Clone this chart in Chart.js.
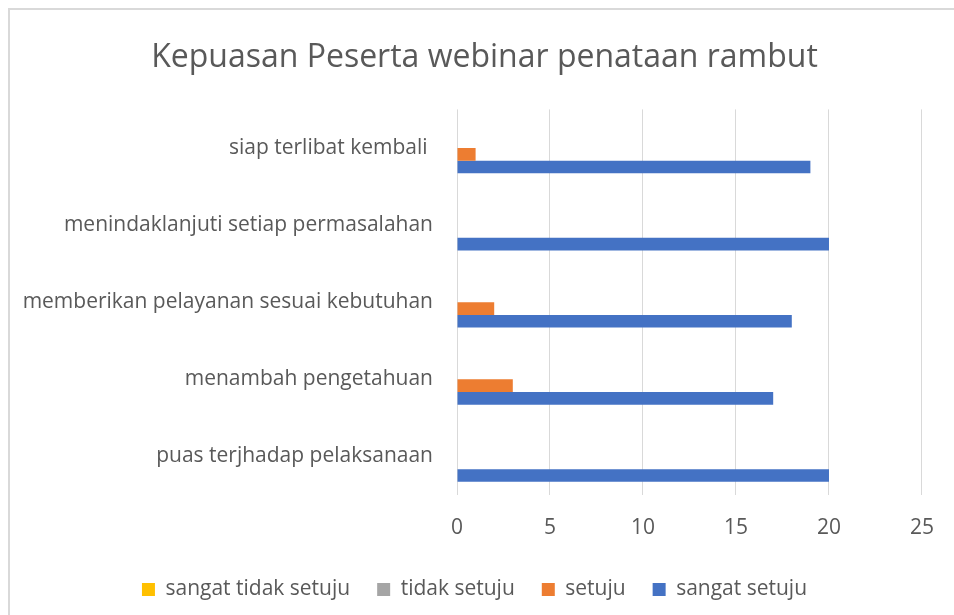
<!DOCTYPE html>
<html>
<head>
<meta charset="utf-8">
<script src="https://cdn.jsdelivr.net/npm/chart.js@4.4.0/dist/chart.umd.min.js"></script>
<style>
  html, body { margin: 0; padding: 0; background: #fff; }
  canvas { display: block; }
</style>
</head>
<body>
<canvas id="kepuasan" width="954" height="615"></canvas>
<script>
// top to bottom, as shown on the chart
const categories = [
    "siap terlibat kembali ",
    "menindaklanjuti setiap permasalahan",
    "memberikan pelayanan sesuai kebutuhan",
    "menambah pengetahuan",
    "puas terjhadap pelaksanaan"
]
const sangatTidakSetuju = [0, 0, 0, 0, 0]
const tidakSetuju = [0, 0, 0, 0, 0]
const setuju = [1, 0, 2, 3, 0]
const sangatSetuju = [19, 20, 18, 17, 20]
const xTicks = [0, 5, 10, 15, 20, 25]

const grey = "#595959"
const fontFam = "'Open Sans', sans-serif"

// light frame at top and left, like the spreadsheet chart border
// also nudges title and legend a bit right, they are centred on the whole frame
const framePlugin = {
    id: "frame",
    afterLayout(chart) {
        if (chart.titleBlock) {
            chart.titleBlock.left += 18
            chart.titleBlock.right += 18
        }
        if (chart.legend) {
            chart.legend.left += 8
            chart.legend.right += 8
        }
    },
    beforeDraw(chart) {
        const ctx = chart.ctx
        ctx.save()
        ctx.fillStyle = "#fff"
        ctx.fillRect(0, 0, chart.width, chart.height)
        ctx.strokeStyle = "#d9d9d9"
        ctx.lineWidth = 2
        ctx.beginPath()
        ctx.moveTo(9, chart.height)
        ctx.lineTo(9, 9)
        ctx.lineTo(chart.width, 9)
        ctx.stroke()
        ctx.restore()
    }
}

const data = {
    labels: categories,
    datasets: [{
        label: "sangat tidak setuju",
        data: sangatTidakSetuju,
        backgroundColor: "#FFC000"
    }, {
        label: "tidak setuju",
        data: tidakSetuju,
        backgroundColor: "#A5A5A5"
    }, {
        label: "setuju",
        data: setuju,
        backgroundColor: "#ED7D31"
    }, {
        label: "sangat setuju",
        data: sangatSetuju,
        backgroundColor: "#4472C4"
    }]
}

const config = {
    type: "bar",
    data,
    plugins: [framePlugin],
    options: {
        indexAxis: "y",
        responsive: false,
        animation: false,
        categoryPercentage: 0.658,
        barPercentage: 1,
        layout: {
            padding: { top: 10, left: 10, right: 31, bottom: 5 }
        },
        scales: {
            x: {
                min: 0,
                max: 25,
                afterBuildTicks(scale) {
                    scale.ticks = xTicks.map(v => ({ value: v }))
                },
                afterFit(scale) {
                    scale.height = 57
                },
                grid: { color: "#d9d9d9", drawTicks: false },
                border: { display: false },
                ticks: {
                    padding: 20,
                    color: grey,
                    font: { family: fontFam, size: 21 }
                }
            },
            y: {
                afterFit(scale) {
                    scale.width = 447
                },
                grid: { display: false, drawTicks: false },
                border: { display: false },
                ticks: {
                    padding: 24,
                    color: grey,
                    font: { family: fontFam, size: 21 }
                }
            }
        },
        plugins: {
            title: {
                display: true,
                text: "Kepuasan Peserta webinar penataan rambut",
                color: grey,
                font: { family: fontFam, size: 32, weight: "normal" },
                padding: { top: 29, bottom: 32 }
            },
            legend: {
                position: "bottom",
                labels: {
                    color: grey,
                    boxWidth: 13,
                    boxHeight: 13,
                    padding: 27,
                    font: { family: fontFam, size: 21 }
                }
            },
            tooltip: { enabled: false }
        }
    }
}

const myChart = new Chart(document.getElementById("kepuasan"), config)
</script>
</body>
</html>
